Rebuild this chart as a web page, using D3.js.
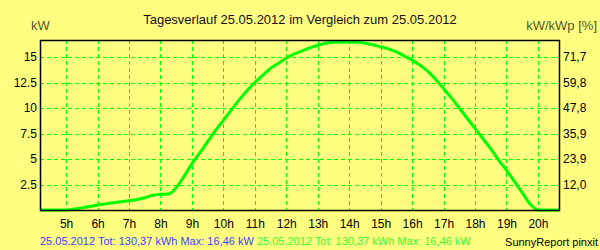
<!DOCTYPE html>
<html>
<head>
<meta charset="utf-8">
<script src="https://cdn.jsdelivr.net/npm/d3@7"></script>
<style>
  body { margin: 0; background: #ffff80; }
  svg { display: block; font-family: "Liberation Sans", Arial, sans-serif; }
</style>
</head>
<body>
<script>
        // hours of day (decimal) and power in kW
        var hours = [4.17, 5.0, 5.25, 5.5, 5.75, 6.0, 6.25, 6.5, 6.75, 7.0, 7.25, 7.5, 7.75,
                     8.0, 8.25, 8.5, 8.75, 9.0, 9.25, 9.5, 9.75, 10.0, 10.25, 10.5, 10.75,
                     11.0, 11.25, 11.5, 11.75, 12.0, 12.25, 12.5, 12.75, 13.0, 13.25, 13.5,
                     13.75, 14.0, 14.25, 14.5, 14.75, 15.0, 15.25, 15.5, 15.75, 16.0, 16.25,
                     16.5, 16.75, 17.0, 17.25, 17.5, 17.75, 18.0, 18.25, 18.5, 18.75, 19.0,
                     19.25, 19.5, 19.75, 20.0, 20.67];
        var power = [0, 0, 0.1, 0.2, 0.35, 0.49, 0.6, 0.72, 0.82, 0.91, 1.02, 1.2, 1.45,
                     1.54, 1.57, 2.2, 3.3, 4.55, 5.6, 6.7, 7.8, 8.8, 9.8, 10.8, 11.7,
                     12.5, 13.2, 13.9, 14.4, 14.9, 15.3, 15.6, 15.9, 16.15, 16.35, 16.46,
                     16.46, 16.46, 16.46, 16.35, 16.2, 16.0, 15.8, 15.5, 15.1, 14.7, 14.2,
                     13.6, 12.8, 11.9, 11.0, 10.0, 9.0, 8.0, 7.0, 6.0, 4.9, 3.9,
                     2.8, 1.7, 0.6, 0.0, 0];

        var hourTicks = [5, 6, 7, 8, 9, 10, 11, 12, 13, 14, 15, 16, 17, 18, 19, 20];
        var kwTicks = [2.5, 5, 7.5, 10, 12.5, 15];
        var kwTickLabels = ["2.5", "5", "7.5", "10", "12.5", "15"];
        var pctTickLabels = ["12,0", "23,9", "35,9", "47,8", "59,8", "71,7"];

        var width = 600;
        var height = 250;
        var margin = {top: 40, right: 41, bottom: 40, left: 40};

        var svg = d3.select("body").append("svg")
            .attr("width", width)
            .attr("height", height);

        svg.append("rect")
            .attr("width", width)
            .attr("height", height)
            .attr("fill", "#ffff80");

        var x = d3.scaleLinear()
            .domain([4.17, 20.67])
            .range([margin.left, width - margin.right]);

        var y = d3.scaleLinear()
            .domain([0, 16.67])
            .range([height - margin.bottom, margin.top]);

        // grid
        svg.append("g").selectAll("line")
            .data(hourTicks)
            .enter()
                .append("line")
                .attr("x1", function(d) { return Math.round(x(d)) + 0.5; })
                .attr("x2", function(d) { return Math.round(x(d)) + 0.5; })
                .attr("y1", margin.top)
                .attr("y2", height - margin.bottom)
                .attr("stroke", "#00ff00")
                .attr("stroke-dasharray", "4,3");

        svg.append("g").selectAll("line")
            .data(kwTicks)
            .enter()
                .append("line")
                .attr("y1", function(d) { return Math.round(y(d)) + 0.5; })
                .attr("y2", function(d) { return Math.round(y(d)) + 0.5; })
                .attr("x1", margin.left)
                .attr("x2", width - margin.right)
                .attr("stroke", "#00ff00")
                .attr("stroke-dasharray", "4,3");

        // curve
        var line = d3.line()
            .x(function(d, i) { return x(hours[i]); })
            .y(function(d) { return y(d); })
            .curve(d3.curveMonotoneX);

        svg.append("path")
            .datum(power)
            .attr("d", line)
            .attr("fill", "none")
            .attr("stroke", "#00ff00")
            .attr("stroke-width", 3);

        // frame
        svg.append("rect")
            .attr("x", margin.left + 0.5)
            .attr("y", margin.top + 0.5)
            .attr("width", width - margin.left - margin.right)
            .attr("height", height - margin.top - margin.bottom)
            .attr("fill", "none")
            .attr("stroke", "#000")
            .attr("stroke-width", 1.5);

        // left axis
        var yAxisL = d3.axisLeft(y)
            .tickValues(kwTicks)
            .tickSize(0)
            .tickPadding(3)
            .tickFormat(function(d, i) { return kwTickLabels[i]; });

        svg.append("g")
            .attr("transform", "translate(" + margin.left + ",0)")
            .call(yAxisL)
            .call(function(g) { g.select(".domain").remove(); })
            .selectAll("text")
                .attr("font-size", 12)
                .attr("fill", "#000")
                .attr("font-family", "Liberation Sans, Arial, sans-serif");

        // right axis
        var yAxisR = d3.axisRight(y)
            .tickValues(kwTicks)
            .tickSize(0)
            .tickPadding(4)
            .tickFormat(function(d, i) { return pctTickLabels[i]; });

        svg.append("g")
            .attr("transform", "translate(" + (width - margin.right) + ",0)")
            .call(yAxisR)
            .call(function(g) { g.select(".domain").remove(); })
            .selectAll("text")
                .attr("font-size", 12)
                .attr("fill", "#000")
                .attr("font-family", "Liberation Sans, Arial, sans-serif");

        // bottom axis
        var xAxis = d3.axisBottom(x)
            .tickValues(hourTicks)
            .tickSize(0)
            .tickPadding(9)
            .tickFormat(function(d) { return d + "h"; });

        svg.append("g")
            .attr("transform", "translate(0," + (height - margin.bottom) + ")")
            .call(xAxis)
            .call(function(g) { g.select(".domain").remove(); })
            .selectAll("text")
                .attr("font-size", 12)
                .attr("fill", "#000")
                .attr("font-family", "Liberation Sans, Arial, sans-serif");

        // titles
        svg.append("text")
            .attr("x", 300)
            .attr("y", 24)
            .attr("text-anchor", "middle")
            .attr("font-size", 13)
            .attr("fill", "#1a0a1a")
            .text("Tagesverlauf 25.05.2012 im Vergleich zum 25.05.2012");

        svg.append("text")
            .attr("x", 31)
            .attr("y", 30)
            .attr("font-size", 13)
            .attr("fill", "#55552a")
            .text("kW");

        svg.append("text")
            .attr("x", 597)
            .attr("y", 30)
            .attr("text-anchor", "end")
            .attr("font-size", 13)
            .attr("fill", "#55552a")
            .text("kW/kWp [%]");

        // footer
        var foot = svg.append("text")
            .attr("x", 40)
            .attr("y", 245)
            .attr("font-size", 11);
        foot.append("tspan")
            .attr("fill", "#4040ff")
            .text("25.05.2012 Tot: 130,37 kWh Max: 16,46 kW ");
        foot.append("tspan")
            .attr("fill", "#33ff33")
            .text("25.05.2012 Tot: 130,37 kWh Max: 16,46 kW");

        svg.append("text")
            .attr("x", 598)
            .attr("y", 246)
            .attr("text-anchor", "end")
            .attr("font-size", 11)
            .attr("fill", "#000")
            .text("SunnyReport pinxit");
</script>
</body>
</html>
